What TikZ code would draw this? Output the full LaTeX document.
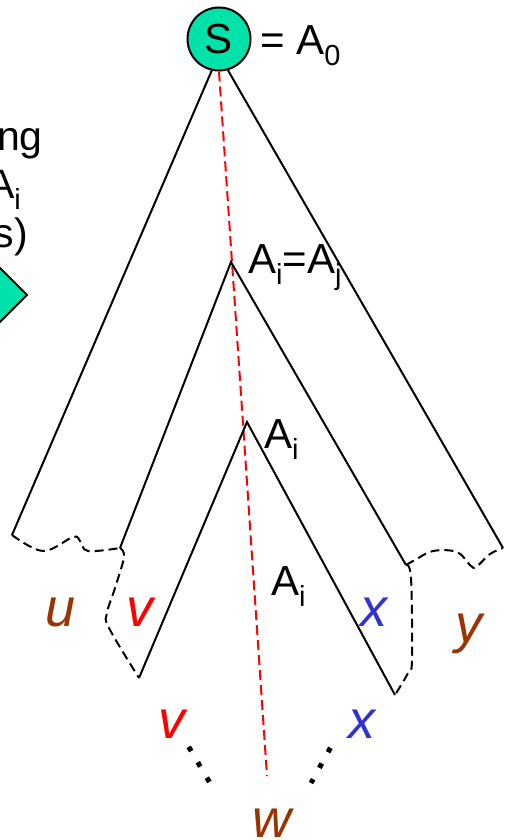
\documentclass[tikz,border=0pt]{standalone}
\usepackage{fontspec}
\setmainfont{Liberation Sans}
\definecolor{sgreen}{RGB}{0,226,170}
\definecolor{tbrown}{RGB}{153,51,0}
\definecolor{tblue}{RGB}{51,51,204}
\newcommand\sbs[1]{\raisebox{-11pt}{\fontsize{29}{29}\selectfont #1}}
\tikzset{
  edge/.style={line width=2pt, line join=miter},
  bnd/.style={line width=2pt, dash pattern=on 9pt off 5pt},
  redd/.style={red, line width=2pt, dash pattern=on 10pt off 5pt},
  lbl/.style={inner sep=0pt, anchor=base west, font=\fontsize{42}{50}\selectfont},
  lblr/.style={inner sep=0pt, anchor=base east, font=\fontsize{41}{48}\selectfont},
  ital/.style={inner sep=0pt, anchor=base west, font=\fontsize{54}{60}\selectfont\itshape},
  dotrow/.style={line width=5pt, dash pattern=on 5pt off 12.9pt},
}
\begin{document}
\begin{tikzpicture}[x=1pt,y=-1pt]
\useasboundingbox (0,0) rectangle (504,840);
\clip (0,0) rectangle (504,840);
% clipped left text and arrow
\node[lblr] (t1) at (43,150) {ng};
\node[lblr] (t2) at (21,198) {A\sbs{i}};
\node[lblr] (t3) at (28,247) {s)};
\draw[line width=2pt, fill=sgreen] (-40,228) -- (27,295) -- (-40,362) -- cycle;
% root
\node[circle, draw, line width=2pt, fill=sgreen, minimum size=63pt, inner sep=0pt,
      font=\fontsize{42}{48}\selectfont] (S) at (219,39) {S};
\node[lbl] (a0) at (260,55) {= A\sbs{0}};
% coordinates
\coordinate (oL) at (12,535);
\coordinate (oR) at (503,548);
\coordinate (mT) at (231,262);
\coordinate (mL) at (120,548);
\coordinate (mR) at (406,565);
\coordinate (iT) at (247,422);
\coordinate (iL) at (139,678);
\coordinate (iR) at (395,695);
\coordinate (rE) at (267,776);
% red path
\draw[redd] (S.south) -- (rE);
% triangles
\draw[edge] (S.-103) -- (oL);
\draw[edge] (S.-74) -- (oR);
\draw[edge] (mL) -- (mT) -- (mR);
\draw[edge] (iL) -- (iT) -- (iR);
% dashed boundaries
\draw[bnd] plot[smooth, tension=0.6] coordinates {(oL) (43,551) (73,537) (80,541) (88,551) (mL)};
\draw[bnd] plot[smooth, tension=0.6] coordinates {(mL) (124,557) (115,588) (107,613) (109,628) (iL)};
\draw[bnd] plot[smooth, tension=0.6] coordinates {(mR) (415,560) (433,551) (457,552) (470,565) (476,567) (490,554) (oR)};
\draw[bnd] plot[smooth, tension=0.6] coordinates {(mR) (411,578) (412,660) (408,673) (iR)};
% labels
\node[lbl] (aij) at (248,273) {A\sbs{i}=A\sbs{j}};
\node[lbl] (ai1) at (264,448) {A\sbs{i}};
\node[lbl] (ai2) at (271,595) {A\sbs{i}};
\node[ital, text=tbrown] (u) at (45,626) {u};
\node[ital, text=red] (v1) at (126,626) {v};
\node[ital, text=tblue] (x1) at (360,626) {x};
\node[ital, text=tbrown] (y) at (455,642) {y};
\node[ital, text=red] (v2) at (158,738) {v};
\node[ital, text=tblue] (x2) at (348,738) {x};
\node[ital, text=tbrown] (w) at (252,837) {w};
% ellipsis dots
\coordinate (ld1) at (188.7,746.8);
\coordinate (ld2) at (210,783);
\coordinate (rd1) at (330.4,747.8);
\coordinate (rd2) at (311,783);
\draw[dotrow] (ld1) -- (ld2);
\draw[dotrow] (rd1) -- (rd2);
\end{tikzpicture}
\end{document}
